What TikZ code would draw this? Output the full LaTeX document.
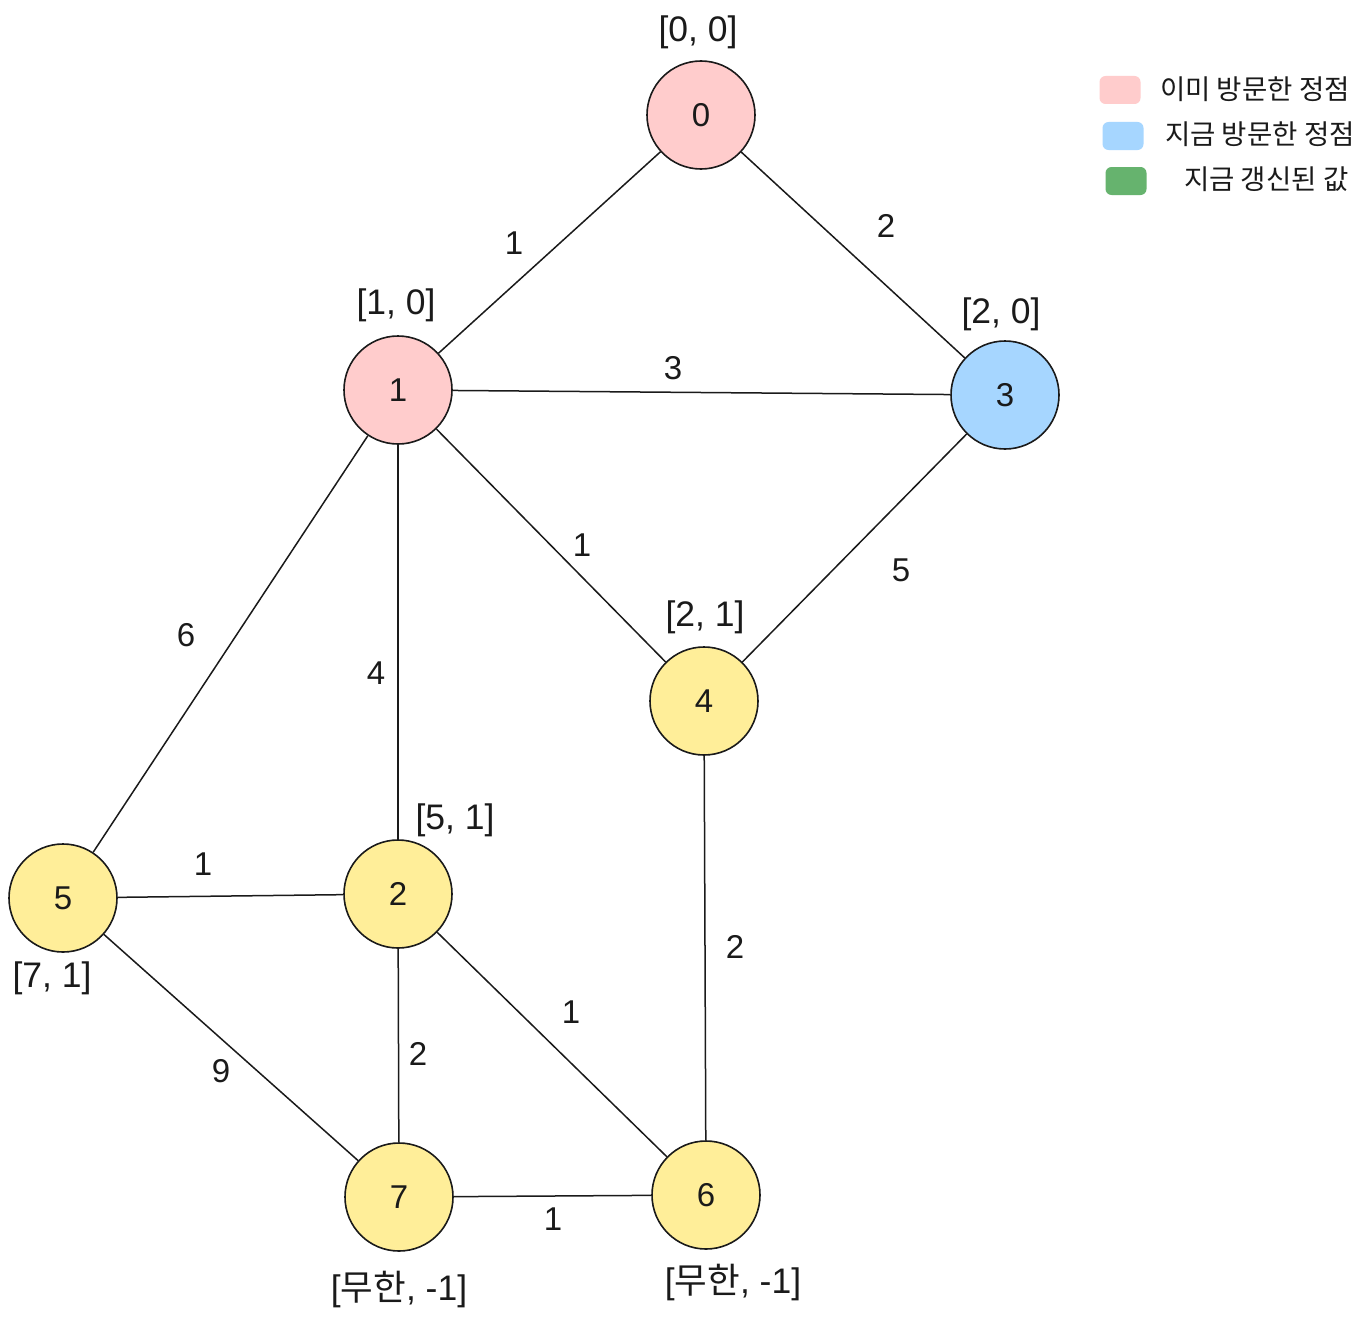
\documentclass[tikz,border=0pt]{standalone}
\usepackage{fontspec}
\setmainfont{Liberation Sans}
\newfontfamily\kr{Noto Sans CJK KR}
\definecolor{pinkv}{HTML}{FFCCCC}
\definecolor{bluev}{HTML}{A6D6FF}
\definecolor{yellv}{HTML}{FFEE99}
\definecolor{greenv}{HTML}{66B36E}
\definecolor{ink}{HTML}{1A1A1A}
\begin{document}
\begin{tikzpicture}[x=1pt,y=-1pt,
  vert/.style={circle,draw=ink,line width=1.6pt,minimum size=108pt,inner sep=0pt,font=\fontsize{33}{40}\selectfont,text=ink},
  pinkn/.style={vert,fill=pinkv},
  bluen/.style={vert,fill=bluev},
  yelln/.style={vert,fill=yellv},
  lab/.style={font=\fontsize{35.5}{42}\selectfont,text=ink,inner sep=0pt},
  elab/.style={font=\fontsize{33}{40}\selectfont,text=ink,inner sep=0pt},
  edge/.style={draw=ink,line width=1.5pt},
  legbox/.style={rounded corners=6pt,minimum width=41pt,minimum height=28pt,inner sep=0pt},
  legtxt/.style={anchor=west,font=\kr\fontsize{27.5}{32}\selectfont,text=ink,inner sep=0pt}]
\useasboundingbox (0,0) rectangle (1364,1319);
\fill[white] (0,0) rectangle (1364,1319);
% nodes
\node[pinkn] (n0) at (701,115) {0};
\node[pinkn] (n1) at (398,390) {1};
\node[bluen] (n3) at (1005,395) {3};
\node[yelln] (n4) at (704,701) {4};
\node[yelln] (n5) at (63,898) {5};
\node[yelln] (n2) at (398,894) {2};
\node[yelln] (n7) at (399,1197) {7};
\node[yelln] (n6) at (706,1195) {6};
% edges
\draw[edge] (n0) -- (n1);
\draw[edge] (n0) -- (n3);
\draw[edge] (n1) -- (n3);
\draw[edge] (n1) -- (n4);
\draw[edge] (n3) -- (n4);
\draw[edge] (n1) -- (n5);
\draw[edge] (n1) -- (n2);
\draw[edge] (n4) -- (n6);
\draw[edge] (n5) -- (n2);
\draw[edge] (n2) -- (n6);
\draw[edge] (n5) -- (n7);
\draw[edge] (n2) -- (n7);
\draw[edge] (n7) -- (n6);
% vertex labels
\node[lab] (l0) at (698,32) {[0, 0]};
\node[lab] (l1) at (396,305) {[1, 0]};
\node[lab] (l3) at (1001,314) {[2, 0]};
\node[lab] (l4) at (705,617) {[2, 1]};
\node[lab] (l2) at (455,820) {[5, 1]};
\node[lab] (l5) at (52,978) {[7, 1]};
\node[lab] (l7) at (399,1290) {[{\kr 무한}, -1]};
\node[lab] (l6) at (733,1283) {[{\kr 무한}, -1]};
% edge labels
\node[elab] (e01) at (514,243) {1};
\node[elab] (e03) at (886,226) {2};
\node[elab] (e13) at (673,368) {3};
\node[elab] (e14) at (582,545) {1};
\node[elab] (e34) at (901,570) {5};
\node[elab] (e15) at (186,635) {6};
\node[elab] (e12) at (376,673) {4};
\node[elab] (e46) at (735,947) {2};
\node[elab] (e52) at (203,864) {1};
\node[elab] (e26) at (571,1012) {1};
\node[elab] (e57) at (221,1071) {9};
\node[elab] (e27) at (418,1054) {2};
\node[elab] (e76) at (553,1219) {1};
% legend
\node[legbox,fill=pinkv] (g1) at (1120,90) {};
\node[legbox,fill=bluev] (g2) at (1123,136) {};
\node[legbox,fill=greenv] (g3) at (1126,181) {};
\node[legtxt] (t1) at (1160,89) {이미 방문한 정점};
\node[legtxt] (t2) at (1165,134) {지금 방문한 정점};
\node[legtxt] (t3) at (1184,179) {지금 갱신된 값};
\end{tikzpicture}
\end{document}
